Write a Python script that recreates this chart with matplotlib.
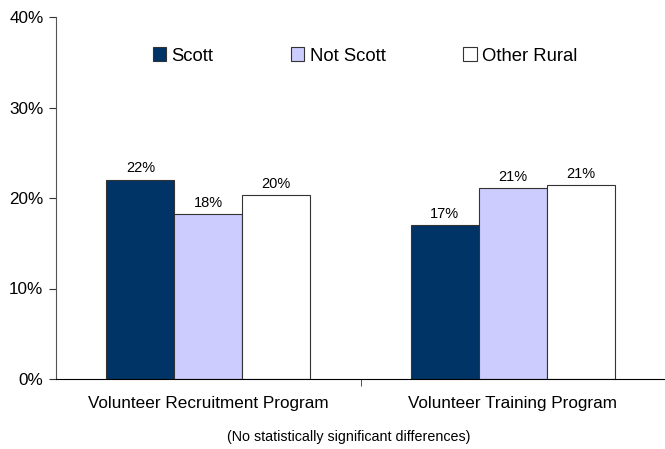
import numpy as np
import matplotlib.pyplot as plt
from matplotlib.ticker import PercentFormatter

# data
programs = ["Volunteer Recruitment Program", "Volunteer Training Program"]
groups = ["Scott", "Not Scott", "Other Rural"]
scott = [22.0, 17.0]
not_scott = [18.2, 21.1]
other_rural = [20.3, 21.4]
colors = ["#003366", "#CCCCFF", "#FFFFFF"]

plt.rcParams['font.family'] = ['Liberation Sans', 'DejaVu Sans']

fig = plt.figure(figsize=(6.65, 4.49), dpi=100)
ax = fig.add_axes([56/665, 70/449, 609/665, 362/449])

x = np.arange(len(programs))
w = 0.223
for i, (vals, name) in enumerate(zip([scott, not_scott, other_rural], groups)):
    bars = ax.bar(x + (i - 1) * w, vals, w, color=colors[i], edgecolor="#333333",
                  linewidth=0.8, label=name)
    for b, v in zip(bars, vals):
        ax.text(b.get_x() + b.get_width() / 2, v + 0.5, f"{v:.0f}%",
                ha="center", va="bottom", fontsize=10.5)

ax.set_xlim(-0.5, 1.5)
ax.set_ylim(0, 40)
ax.set_yticks([0, 10, 20, 30, 40])
ax.yaxis.set_major_formatter(PercentFormatter(decimals=0))
ax.set_xticks([0.5], minor=True)
ax.set_xticks(x)
ax.set_xticklabels(programs, fontsize=12.3)
ax.tick_params(axis='x', which='major', length=0, pad=12)
ax.tick_params(axis='x', which='minor', length=5, direction='out', color='#333333')
ax.tick_params(axis='y', length=5, labelsize=12.3, pad=4, color='#333333')
for s in ["top", "right"]:
    ax.spines[s].set_visible(False)
ax.spines["left"].set_color("#555555")
ax.spines["bottom"].set_color("#000000")

leg = ax.legend(loc="center", bbox_to_anchor=(365/665, 1 - 56/449), bbox_transform=fig.transFigure,
                ncol=3, frameon=False, fontsize=13.3, handlelength=0.72, handleheight=0.72,
                handletextpad=0.3, columnspacing=4.2)

fig.text(349/665, 1 - 437/449, "(No statistically significant differences)",
         ha="center", va="center", fontsize=10.3)

plt.savefig("out.png", dpi=100)
